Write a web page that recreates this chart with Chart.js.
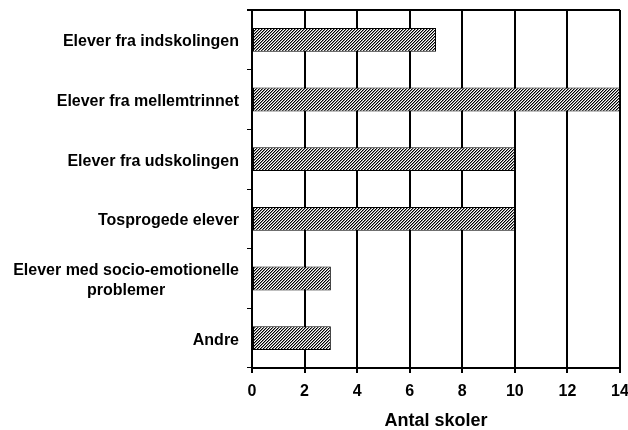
<!DOCTYPE html>
<html>
<head>
<meta charset="utf-8">
<script src="https://cdn.jsdelivr.net/npm/chart.js@4.4.1/dist/chart.umd.min.js"></script>
<style>
  html, body { margin: 0; padding: 0; background: #fff; }
  #wrap { width: 628px; height: 430px; }
</style>
</head>
<body>
<div id="wrap"><canvas id="chart" width="628" height="430"></canvas></div>
<script>
// data
const CATEGORIES = [
  ['Elever fra indskolingen'],
  ['Elever fra mellemtrinnet'],
  ['Elever fra udskolingen'],
  ['Tosprogede elever'],
  ['Elever med socio-emotionelle', 'problemer'],
  ['Andre']
];
const SCHOOL_COUNTS = [7, 14, 10, 10, 3, 3];
const X_MIN = 0;
const X_MAX = 14;
const X_STEP = 2;
const X_TITLE = 'Antal skoler';

const FONT_FAMILY = '"Liberation Sans", Arial, Helvetica, sans-serif';
const LABEL_FONT = 'bold 16px ' + FONT_FAMILY;

// skraverede bjaelker: fine diagonale streger (sort, graa, hvid)
function makeHatch() {
  const tile = document.createElement('canvas');
  tile.width = 3;
  tile.height = 3;
  const c = tile.getContext('2d');
  const shades = ['#000000', '#8a8a8a', '#ffffff'];
  for (let x = 0; x < 3; x++) {
    for (let y = 0; y < 3; y++) {
      c.fillStyle = shades[(x + y + 1) % 3];
      c.fillRect(x, y, 1, 1);
    }
  }
  return c.createPattern(tile, 'repeat');
}

// kategori-tekster tegnes selv, saa flerlinjet tekst bliver centreret som i originalen
const categoryLabels = {
  id: 'categoryLabels',
  afterDraw(chart) {
    const ctx = chart.ctx;
    const yScale = chart.scales.y;
    const rightEdge = 239;
    const lineGap = 20;
    ctx.save();
    ctx.font = LABEL_FONT;
    ctx.fillStyle = '#000';
    ctx.textBaseline = 'middle';
    ctx.textAlign = 'center';
    CATEGORIES.forEach((lines, i) => {
      const yc = yScale.getPixelForValue(i);
      const blockW = Math.max(...lines.map(l => ctx.measureText(l).width));
      const xc = rightEdge - blockW / 2;
      const y0 = yc - (lines.length - 1) * lineGap / 2 + 2;
      lines.forEach((line, k) => ctx.fillText(line, xc, y0 + k * lineGap));
    });
    ctx.restore();
  }
};

// topkant af plotomraadet
const topBorder = {
  id: 'topBorder',
  afterDraw(chart) {
    const { ctx, chartArea } = chart;
    ctx.save();
    ctx.strokeStyle = '#000';
    ctx.lineWidth = 2;
    ctx.beginPath();
    ctx.moveTo(chartArea.left - 5, chartArea.top);
    ctx.lineTo(chartArea.right, chartArea.top);
    ctx.stroke();
    ctx.restore();
  }
};

const ctx = document.getElementById('chart').getContext('2d');

new Chart(ctx, {
  type: 'bar',
  data: {
    labels: CATEGORIES.map(l => l.join(' ')),
    datasets: [{
      data: SCHOOL_COUNTS,
      backgroundColor: makeHatch(),
      borderColor: '#000',
      borderWidth: 1,
      borderSkipped: false,
      barPercentage: 0.4,
      categoryPercentage: 1
    }]
  },
  options: {
    indexAxis: 'y',
    responsive: false,
    animation: false,
    layout: { padding: { left: 0, right: 8, top: 10, bottom: 0 } },
    plugins: {
      legend: { display: false },
      tooltip: { enabled: false }
    },
    scales: {
      x: {
        min: X_MIN,
        max: X_MAX,
        afterFit(scale) {
          scale.height = 62;
          scale.paddingLeft = 0;
          scale.paddingRight = 0;
        },
        ticks: {
          stepSize: X_STEP,
          color: '#000',
          padding: 9,
          font: { family: FONT_FAMILY, size: 16, weight: 'bold' }
        },
        grid: {
          color: '#000',
          lineWidth: 2,
          tickLength: 5
        },
        border: { color: '#000', width: 2 },
        title: {
          display: true,
          text: X_TITLE,
          color: '#000',
          padding: { top: 0, bottom: 0 },
          font: { family: FONT_FAMILY, size: 18, weight: 'bold', lineHeight: 1 }
        }
      },
      y: {
        afterFit(scale) { scale.width = 252; },
        ticks: { display: false },
        grid: {
          offset: true,
          drawOnChartArea: false,
          color: '#000',
          lineWidth: 1,
          tickLength: 5
        },
        border: { color: '#000', width: 2 }
      }
    }
  },
  plugins: [categoryLabels, topBorder]
});
</script>
</body>
</html>
